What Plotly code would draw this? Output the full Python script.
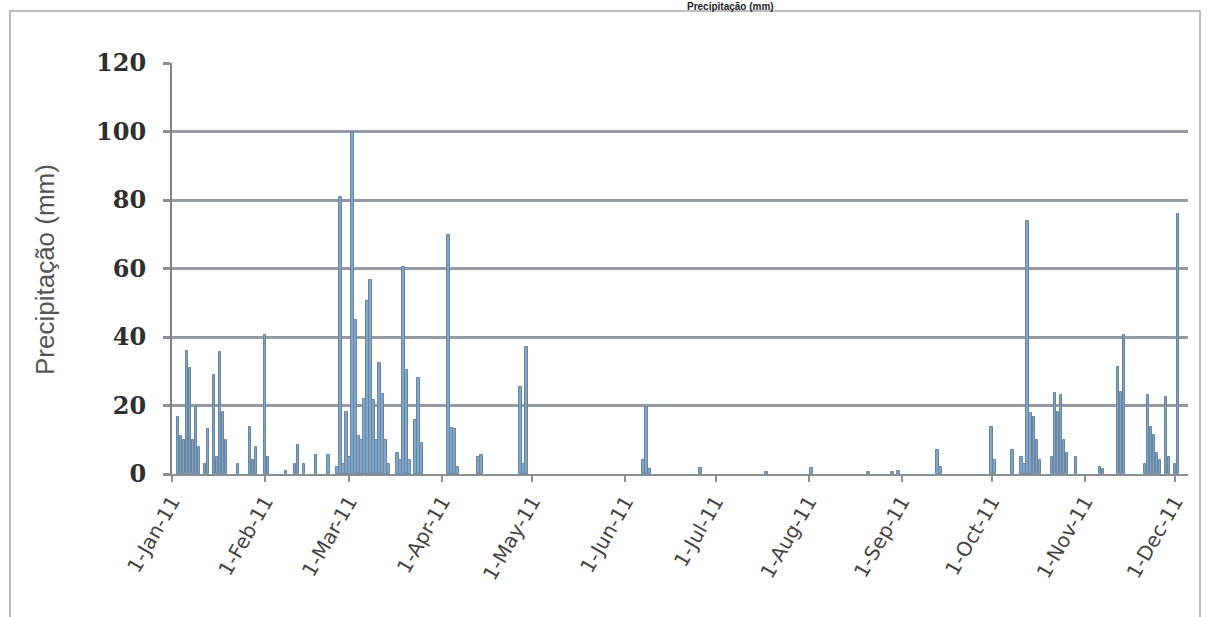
import plotly.graph_objects as go

# Daily precipitation, 2011 (mm)
dates = [
    "2011-01-03", "2011-01-04", "2011-01-05", "2011-01-06", "2011-01-07", "2011-01-08",
    "2011-01-09", "2011-01-10", "2011-01-12", "2011-01-13", "2011-01-15", "2011-01-16",
    "2011-01-17", "2011-01-18", "2011-01-19", "2011-01-23", "2011-01-27", "2011-01-28",
    "2011-01-29", "2011-02-01", "2011-02-02", "2011-02-08", "2011-02-11", "2011-02-12",
    "2011-02-14", "2011-02-18", "2011-02-22", "2011-02-25", "2011-02-26", "2011-02-27",
    "2011-02-28", "2011-03-01", "2011-03-02", "2011-03-03", "2011-03-04", "2011-03-05",
    "2011-03-06", "2011-03-07", "2011-03-08", "2011-03-09", "2011-03-10", "2011-03-11",
    "2011-03-12", "2011-03-13", "2011-03-14", "2011-03-17", "2011-03-18", "2011-03-19",
    "2011-03-20", "2011-03-21", "2011-03-23", "2011-03-24", "2011-03-25", "2011-04-03",
    "2011-04-04", "2011-04-05", "2011-04-06", "2011-04-13", "2011-04-14", "2011-04-27",
    "2011-04-28", "2011-04-29", "2011-06-07", "2011-06-08", "2011-06-09", "2011-06-26",
    "2011-07-18", "2011-08-02", "2011-08-21", "2011-08-29", "2011-08-31", "2011-09-13",
    "2011-09-14", "2011-10-01", "2011-10-02", "2011-10-08", "2011-10-11", "2011-10-12",
    "2011-10-13", "2011-10-14", "2011-10-15", "2011-10-16", "2011-10-17", "2011-10-21",
    "2011-10-22", "2011-10-23", "2011-10-24", "2011-10-25", "2011-10-26", "2011-10-29",
    "2011-11-06", "2011-11-07", "2011-11-12", "2011-11-13", "2011-11-14", "2011-11-21",
    "2011-11-22", "2011-11-23", "2011-11-24", "2011-11-25", "2011-11-26", "2011-11-28",
    "2011-11-29", "2011-12-01", "2011-12-02",
]
precip = [
    16.5, 11, 10, 36, 31, 10,
    19.5, 8, 3, 13, 29, 5,
    35.5, 18, 10, 3, 13.8, 4,
    8, 40.7, 5, 1, 3, 8.5,
    3, 5.5, 5.5, 2, 81, 3,
    18, 5, 100, 45, 11, 10,
    22, 50.5, 56.5, 21.5, 10, 32.3,
    23.5, 10, 3, 6, 4, 60.5,
    30.4, 4, 15.8, 28, 9, 69.8,
    13.5, 13, 2, 5, 5.5, 25.5,
    3, 37.2, 4, 19.7, 1.5, 1.8,
    0.5, 1.8, 0.5, 0.6, 0.8, 7,
    2, 13.8, 4, 7, 5, 3,
    74, 17.8, 16.7, 10, 4, 5,
    23.6, 18, 23, 10, 6, 5,
    2, 1.5, 31.3, 24, 40.6, 3,
    23, 13.8, 11.4, 6, 4, 22.6,
    5, 3, 76,
]
month_ticks = ["2011-%02d-01" % m for m in range(1, 13)]
y_ticks = [0, 20, 40, 60, 80, 100, 120]
title_text = "Precipitação (mm)"
y_title = "Precipitação (mm)"

fig = go.Figure()
fig.add_trace(go.Bar(
    x=dates, y=precip,
    width=86400000 * 0.9,
    marker=dict(color="#7fa6cb", line=dict(color="#6a859f", width=1)),
))

W, H = 1208, 617
ml, mr, mt, mb = 172, 20, 63, 143
pw, ph = W - ml - mr, H - mt - mb

def px(xp):
    return (xp - ml) / pw

def py(yp):
    return (H - mb - yp) / ph

fig.update_layout(
    width=W, height=H,
    margin=dict(l=ml, r=mr, t=mt, b=mb),
    paper_bgcolor="white", plot_bgcolor="white",
    showlegend=False,
    bargap=0,
    xaxis=dict(
        type="date",
        range=["2011-01-01", "2011-12-05 08:00"],
        tickvals=month_ticks,
        tickformat="%-d-%b-%y",
        tickangle=-60,
        tickfont=dict(family="DejaVu Sans", size=20, color="#444444"),
        ticks="outside", ticklen=6, tickcolor="#8a9096", tickwidth=1.5,
        showgrid=False,
        showline=True, linecolor="#8a9096", linewidth=2,
        zeroline=False,
    ),
    yaxis=dict(
        range=[0, 120],
        tickvals=y_ticks,
        tickfont=dict(family="DejaVu Serif", size=24, color="#2f2f2f", weight="bold"),
        ticks="outside", ticklen=7, tickcolor="#8a9096", tickwidth=2.5,
        ticklabelstandoff=12,
        showgrid=True, gridcolor="#959ba1", gridwidth=2.5,
        showline=True, linecolor="#7d848b", linewidth=2,
        zeroline=False,
    ),
    shapes=[dict(
        type="rect", xref="paper", yref="paper",
        x0=px(10), x1=px(1200), y0=py(640), y1=py(11),
        line=dict(color="#a9a9a9", width=1.5), fillcolor="rgba(0,0,0,0)", layer="below",
    )],
    annotations=[
        dict(
            text="<b>" + title_text + "</b>", xref="paper", yref="paper",
            x=px(730), y=py(13), xanchor="center", yanchor="bottom",
            showarrow=False, font=dict(family="Liberation Sans", size=10, color="#222222"),
            borderpad=0,
        ),
        dict(
            text=y_title, xref="paper", yref="paper",
            x=px(45), y=py(270), xanchor="center", yanchor="middle",
            textangle=-90, showarrow=False,
            font=dict(family="Liberation Sans", size=26, color="#555555"),
        ),
    ],
)

fig.write_html("out.html", config={"displayModeBar": False},
               post_script="document.body.style.margin='0';")
